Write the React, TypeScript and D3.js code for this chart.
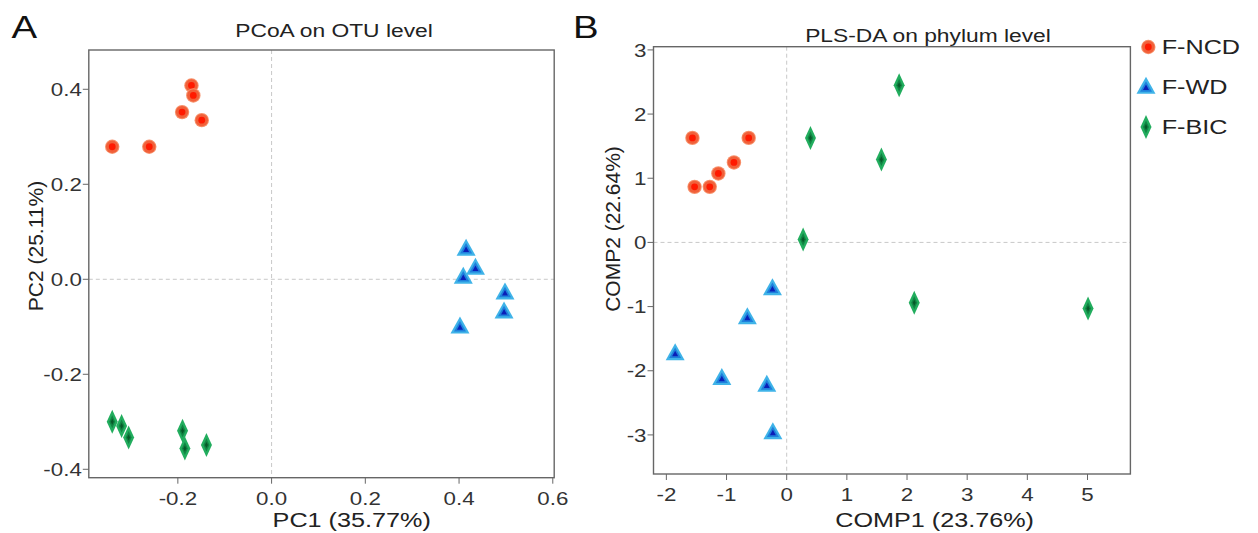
import React from "react";
import * as d3 from "d3";

// panel A: PCoA on OTU level  [PC1, PC2]
const pcoaNCD = [[-0.340, 0.279], [-0.261, 0.279], [-0.191, 0.352], [-0.171, 0.408], [-0.167, 0.387], [-0.149, 0.335]];
const pcoaWD = [[0.415, 0.064], [0.435, 0.024], [0.409, 0.005], [0.498, -0.028], [0.496, -0.068], [0.402, -0.100]];
const pcoaBIC = [[-0.340, -0.300], [-0.320, -0.309], [-0.305, -0.333], [-0.190, -0.319], [-0.185, -0.356], [-0.139, -0.349]];

// panel B: PLS-DA on phylum level  [COMP1, COMP2]
const plsNCD = [[-1.567, 1.629], [-0.632, 1.629], [-0.877, 1.246], [-1.136, 1.075], [-1.531, 0.866], [-1.279, 0.866]];
const plsWD = [[-0.237, -0.717], [-0.654, -1.168], [-1.854, -1.729], [-1.078, -2.118], [-0.331, -2.223], [-0.230, -2.960]];
const plsBIC = [[1.869, 2.450], [0.395, 1.629], [1.574, 1.293], [0.273, 0.047], [2.120, -0.941], [5.009, -1.028]];

const pcoaXTicks = [-0.2, 0.0, 0.2, 0.4, 0.6];
const pcoaYTicks = [-0.4, -0.2, 0.0, 0.2, 0.4];
const plsXTicks = [-2, -1, 0, 1, 2, 3, 4, 5];
const plsYTicks = [-3, -2, -1, 0, 1, 2, 3];

const groups = ["F-NCD", "F-WD", "F-BIC"];

const FONT = "'Liberation Sans', Arial, sans-serif";
const SX = 1.2; // the figure is a bit wide-stretched

// d3.format gives a unicode minus, the figure uses a plain hyphen
const hyphen = (f: (n: number) => string) => (n: number) => f(n).replace("\u2212", "-");

function T({ x, y, size, anchor = "start", fill = "#222", children }: any) {
  return (
    <text
      transform={`translate(${x},${y}) scale(${SX},1)`}
      fontSize={size}
      fontFamily={FONT}
      textAnchor={anchor}
      fill={fill}
    >
      {children}
    </text>
  );
}

function Circle({ cx, cy }: any) {
  return (
    <g>
      <circle cx={cx} cy={cy} r={7.2} fill="#f7906a" />
      <circle cx={cx} cy={cy} r={6.2} fill="#f1603a" />
      <circle cx={cx} cy={cy} r={3.4} fill="#ff1a00" />
    </g>
  );
}

function tri(cx: number, cy: number, w: number, h: number) {
  return `M${cx},${cy - h * 0.6}L${cx + w / 2},${cy + h * 0.4}L${cx - w / 2},${cy + h * 0.4}Z`;
}

function Triangle({ cx, cy }: any) {
  return (
    <g>
      <path d={tri(cx, cy, 19, 17)} fill="#3fb3e8" />
      <path d={tri(cx, cy + 0.5, 12, 10.5)} fill="#1f7fdc" />
      <path d={tri(cx, cy + 0.8, 6, 5.5)} fill="#0a1fb8" />
    </g>
  );
}

function dia(cx: number, cy: number, w: number, h: number) {
  return `M${cx},${cy - h / 2}L${cx + w / 2},${cy}L${cx},${cy + h / 2}L${cx - w / 2},${cy}Z`;
}

function Diamond({ cx, cy }: any) {
  return (
    <g>
      <path d={dia(cx, cy, 11, 24)} fill="#22ad5e" />
      <path d={dia(cx, cy, 6, 13)} fill="#118443" />
      <path d={dia(cx, cy, 3, 6)} fill="#075a2a" />
    </g>
  );
}

function Panel({ x, y, xTicks, yTicks, fmt, series, title, titleX, titleY, xLabel, xLabelX, yLabel, yLabelX, yLabelY, letter, letterX }: any) {
  const [x0, x1] = x.range();
  const [y0, y1] = y.range(); // y0 bottom, y1 top
  return (
    <g>
      <T x={letterX} y={38.3} size={32} fill="#111">{letter}</T>
      <T x={titleX} y={titleY} size={19} anchor="middle" fill="#222">{title}</T>
      {/* zero reference lines */}
      <line x1={x(0)} x2={x(0)} y1={y1} y2={y0} stroke="#c8c8c8" strokeDasharray="4,3" />
      <line x1={x0} x2={x1} y1={y(0)} y2={y(0)} stroke="#c8c8c8" strokeDasharray="4,3" />
      <rect x={x0} y={y1} width={x1 - x0} height={y0 - y1} fill="none" stroke="#666" strokeWidth={1.4} />
      {xTicks.map((t: number) => (
        <g key={"x" + t}>
          <line x1={x(t)} x2={x(t)} y1={y0} y2={y0 + 6} stroke="#666" />
          <T x={x(t)} y={y0 + 27} size={18.6} anchor="middle" fill="#333">{fmt(t)}</T>
        </g>
      ))}
      {yTicks.map((t: number) => (
        <g key={"y" + t}>
          <line x1={x0 - 6} x2={x0} y1={y(t)} y2={y(t)} stroke="#666" />
          <T x={x0 - 7} y={y(t) + 6.7} size={18.6} anchor="end" fill="#333">{fmt(t)}</T>
        </g>
      ))}
      <T x={xLabelX} y={526.5} size={21} anchor="middle" fill="#222">{xLabel}</T>
      <text
        transform={`translate(${yLabelX},${yLabelY}) rotate(-90)`}
        fontSize={21}
        fontFamily={FONT}
        textAnchor="middle"
        fill="#222"
      >
        {yLabel}
      </text>
      {series[1].map((d: number[], i: number) => <Triangle key={"w" + i} cx={x(d[0])} cy={y(d[1])} />)}
      {series[2].map((d: number[], i: number) => <Diamond key={"b" + i} cx={x(d[0])} cy={y(d[1])} />)}
      {series[0].map((d: number[], i: number) => <Circle key={"n" + i} cx={x(d[0])} cy={y(d[1])} />)}
    </g>
  );
}

export default function App() {
  const xA = d3.scaleLinear().domain([-0.39, 0.603]).range([88.8, 554.2]);
  const yA = d3.scaleLinear().domain([-0.4177, 0.4827]).range([477.7, 50]);
  const xB = d3.scaleLinear().domain([-2.214, 5.713]).range([653.5, 1130.4]);
  const yB = d3.scaleLinear().domain([-3.609, 3.05]).range([474, 46.7]);

  const legendY = [47, 87, 127];

  return (
    <svg width={1258} height={533} style={{ position: "absolute", left: 0, top: 0, background: "#fff" }}>
      <rect width={1258} height={533} fill="#fff" />
      <Panel
        x={xA} y={yA} xTicks={pcoaXTicks} yTicks={pcoaYTicks} fmt={hyphen(d3.format(".1f"))}
        series={[pcoaNCD, pcoaWD, pcoaBIC]}
        title="PCoA on OTU level" titleX={334} titleY={37}
        xLabel="PC1 (35.77%)" xLabelX={351.7}
        yLabel="PC2 (25.11%)" yLabelX={42.5} yLabelY={246}
        letter="A" letterX={11.5}
      />
      <Panel
        x={xB} y={yB} xTicks={plsXTicks} yTicks={plsYTicks} fmt={hyphen(d3.format("d"))}
        series={[plsNCD, plsWD, plsBIC]}
        title="PLS-DA on phylum level" titleX={928} titleY={42}
        xLabel="COMP1 (23.76%)" xLabelX={934.6}
        yLabel="COMP2 (22.64%)" yLabelX={620} yLabelY={229}
        letter="B" letterX={573}
      />
      {/* legend */}
      <Circle cx={1148.3} cy={legendY[0]} />
      <Triangle cx={1146} cy={legendY[1]} />
      <Diamond cx={1146} cy={legendY[2]} />
      {groups.map((g, i) => (
        <T key={g} x={1161.7} y={legendY[i] + 7} size={21} fill="#222">{g}</T>
      ))}
    </svg>
  );
}
